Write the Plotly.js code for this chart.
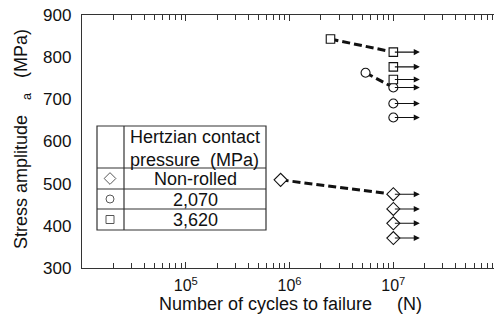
<!DOCTYPE html>
<html>
<head>
<meta charset="utf-8">
<script src="https://cdn.plot.ly/plotly-3.0.1.min.js"></script>
<style>html,body{margin:0;padding:0;background:#fff;overflow:hidden}</style>
</head>
<body>
<div id="chart" style="width:494px;height:318px"></div>
<script>
// ---- data ----
const nonRolledFailN = [8.2e5];
const nonRolledFailS = [509];
const nonRolledRunN = [1e7, 1e7, 1e7, 1e7];
const nonRolledRunS = [475, 440, 406, 371];

const p2070FailN = [5.4e6];
const p2070FailS = [763];
const p2070RunN = [1e7, 1e7, 1e7];
const p2070RunS = [728, 690, 657];

const p3620FailN = [2.48e6];
const p3620FailS = [843];
const p3620RunN = [1e7, 1e7, 1e7];
const p3620RunS = [812, 777, 747];

const runoutArrowEnd = 1.8e7;

const legendLabels = ["Non-rolled", "2,070", "3,620"];
const legendHeader = "Hertzian contact<br>pressure  (MPa)";
const xTitle = "Number of cycles to failure \u00a0\u00a0\u00a0\u00a0(N)";
const yTitle = "Stress amplitude \u00a0\u00a0<sub>a</sub>\u00a0\u00a0 (MPa)";
const xTickVals = [1e5, 1e6, 1e7];
const xTickText = ["10<sup>5</sup>", "10<sup>6</sup>", "10<sup>7</sup>"];
const yTickVals = [300, 400, 500, 600, 700, 800, 900];

// ---- layout helpers ----
const W = 494, H = 318, ML = 82, MR = 0, MT = 15, MB = 50;
const px = x => (x - ML) / (W - ML - MR);
const py = y => (H - MB - y) / (H - MB - MT);
const FONT = "Liberation Sans, Arial, sans-serif";
const BLACK = "#111";

const groups = [
  {fN: nonRolledFailN, fS: nonRolledFailS, rN: nonRolledRunN, rS: nonRolledRunS, sym: "diamond", size: 10},
  {fN: p2070FailN, fS: p2070FailS, rN: p2070RunN, rS: p2070RunS, sym: "circle", size: 9},
  {fN: p3620FailN, fS: p3620FailS, rN: p3620RunN, rS: p3620RunS, sym: "square", size: 8.5}
];

const traces = [];
const annotations = [];
// dashed S-N lines first
groups.forEach(g => {
  traces.push({
    x: [g.fN[0], g.rN[0]], y: [g.fS[0], g.rS[0]],
    mode: "lines", line: {color: BLACK, width: 3, dash: "8px,4px"},
    hoverinfo: "skip", showlegend: false
  });
});
// run-out arrows
groups.forEach(g => {
  g.rN.forEach((n, i) => {
    annotations.push({
      x: Math.log10(runoutArrowEnd), y: g.rS[i], xref: "x", yref: "y",
      ax: Math.log10(n), ay: g.rS[i], axref: "x", ayref: "y",
      showarrow: true, arrowhead: 2, arrowsize: 1.1, arrowwidth: 1.1, arrowcolor: BLACK, text: ""
    });
  });
});
// markers
groups.forEach(g => {
  traces.push({
    x: g.fN.concat(g.rN), y: g.fS.concat(g.rS),
    mode: "markers",
    marker: {symbol: g.sym, size: g.size, color: "#fff", line: {color: BLACK, width: 1.1}},
    showlegend: false, cliponaxis: false
  });
});

// ---- legend table ----
const tL = 97, tR = 266, tDiv = 124, rowY = [126, 168, 189, 209, 230];
const shapes = [];
shapes.push({type: "rect", xref: "paper", yref: "paper", x0: px(tL), x1: px(tR), y0: py(rowY[0]), y1: py(rowY[4]),
  fillcolor: "#fff", line: {color: "#333", width: 1.2}, layer: "below"});
shapes.push({type: "line", xref: "paper", yref: "paper", x0: px(tDiv), x1: px(tDiv), y0: py(rowY[0]), y1: py(rowY[4]),
  line: {color: "#333", width: 1.2}, layer: "below"});
for (let i = 1; i < 4; i++) {
  shapes.push({type: "line", xref: "paper", yref: "paper", x0: px(tL), x1: px(tR), y0: py(rowY[i]), y1: py(rowY[i]),
    line: {color: "#333", width: 1.2}, layer: "below"});
}
annotations.push({xref: "paper", yref: "paper", x: px(128), y: py((rowY[0] + rowY[1]) / 2 + 1), xanchor: "left", yanchor: "middle",
  text: legendHeader, showarrow: false, align: "left", font: {family: FONT, size: 18, color: BLACK}});
const legSyms = ["diamond", "circle", "square"];
const legX = [], legY = [];
legendLabels.forEach((lab, i) => {
  const cy = (rowY[i + 1] + rowY[i + 2]) / 2;
  annotations.push({xref: "paper", yref: "paper", x: px((tDiv + tR) / 2), y: py(cy + 0.5), xanchor: "center", yanchor: "middle",
    text: lab, showarrow: false, font: {family: FONT, size: 18, color: BLACK}});
  legX.push(px(110)); legY.push(py(cy));
});
traces.push({
  x: legX, y: legY, xaxis: "x2", yaxis: "y2", mode: "markers",
  marker: {symbol: legSyms, size: [9, 8, 8], color: "#fff", line: {color: BLACK, width: 1}},
  showlegend: false, hoverinfo: "skip", cliponaxis: false
});

// axis titles
annotations.push({xref: "paper", yref: "paper", x: px(290), y: py(304), xanchor: "center", yanchor: "middle",
  text: xTitle, showarrow: false, font: {family: FONT, size: 18, color: BLACK}});
annotations.push({xref: "paper", yref: "paper", x: px(22), y: py(139), xanchor: "center", yanchor: "middle", textangle: -90,
  text: yTitle, showarrow: false, font: {family: FONT, size: 18, color: BLACK}});

// minor ticks on log axis
const minorVals = [];
for (let d = 4; d < 8; d++) for (let k = 2; k <= 9; k++) minorVals.push(k * Math.pow(10, d));

const layout = {
  width: W, height: H,
  margin: {l: ML, r: MR, t: MT, b: MB},
  paper_bgcolor: "#fff", plot_bgcolor: "#fff",
  showlegend: false,
  font: {family: FONT, size: 17, color: BLACK},
  xaxis: {
    type: "log", range: [4, 7.97],
    tickmode: "array", tickvals: xTickVals, ticktext: xTickText,
    ticks: "inside", ticklen: 6, tickwidth: 1, tickcolor: "#333",
    minor: {tickmode: "array", tickvals: minorVals, ticks: "inside", ticklen: 5, tickwidth: 1, tickcolor: "#333", showgrid: false},
    showline: true, linecolor: "#333", linewidth: 1.2, mirror: "ticks",
    showgrid: false, zeroline: false, ticklabelstandoff: 3,
    tickfont: {family: FONT, size: 16, color: BLACK}
  },
  yaxis: {
    range: [300, 900], tickmode: "array", tickvals: yTickVals,
    ticks: "", showline: true, linecolor: "#333", linewidth: 1.2, mirror: false,
    showgrid: false, zeroline: false, ticklabelstandoff: 6,
    tickfont: {family: FONT, size: 17, color: BLACK}
  },
  xaxis2: {domain: [0, 1], range: [0, 1], overlaying: "x", visible: false, fixedrange: true},
  yaxis2: {domain: [0, 1], range: [0, 1], overlaying: "y", visible: false, fixedrange: true},
  shapes: shapes,
  annotations: annotations
};

Plotly.newPlot("chart", traces, layout, {displayModeBar: false, staticPlot: true});
</script>
</body>
</html>
